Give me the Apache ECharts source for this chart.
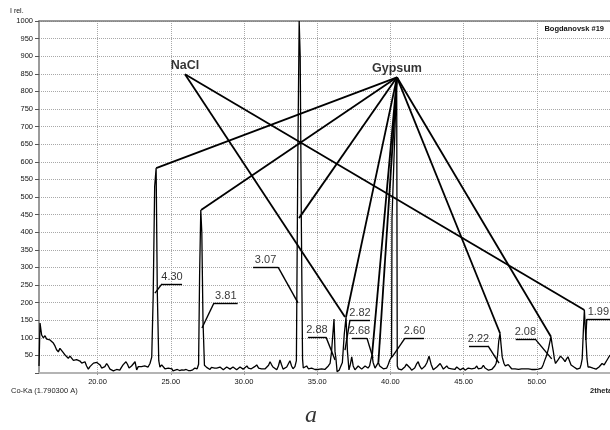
<!DOCTYPE html>
<html><head><meta charset="utf-8">
<script src="https://cdn.jsdelivr.net/npm/echarts@6/dist/echarts.min.js"></script>
<style>html,body{margin:0;padding:0;background:#fff}#c{width:610px;height:430px}</style>
</head><body><div id="c"></div>
<script>
// 2theta (deg, Co-Ka) and relative intensity
const twoTheta = [16.00,16.07,16.18,16.30,16.41,16.53,16.65,16.75,16.87,16.98,17.09,17.20,17.32,17.43,17.55,17.66,17.78,17.90,18.00,18.12,18.23,18.35,18.46,18.57,18.68,18.80,18.92,19.03,19.14,19.25,19.37,19.48,19.60,19.72,19.83,19.95,20.06,20.17,20.28,20.39,20.50,20.62,20.73,20.85,20.96,21.08,21.19,21.30,21.40,21.52,21.63,21.74,21.85,21.94,22.05,22.15,22.21,22.32,22.44,22.56,22.67,22.78,22.90,23.00,23.10,23.22,23.33,23.45,23.58,23.70,23.80,23.90,24.00,24.08,24.18,24.26,24.38,24.49,24.60,24.72,24.83,24.95,25.08,25.15,25.30,25.45,25.60,25.75,25.90,26.05,26.20,26.35,26.50,26.65,26.80,26.90,26.97,27.05,27.12,27.20,27.30,27.45,27.57,27.68,27.78,27.88,28.00,28.14,28.25,28.36,28.48,28.59,28.70,28.82,28.94,29.05,29.15,29.25,29.38,29.50,29.62,29.73,29.84,29.94,30.07,30.20,30.30,30.41,30.50,30.60,30.73,30.87,31.00,31.10,31.20,31.30,31.45,31.57,31.68,31.78,31.88,31.98,32.10,32.24,32.35,32.46,32.56,32.67,32.80,32.92,33.03,33.14,33.25,33.35,33.48,33.58,33.68,33.77,33.84,33.92,34.00,34.05,34.17,34.28,34.40,34.50,34.62,34.73,34.85,34.97,35.08,35.19,35.30,35.40,35.52,35.65,35.76,35.88,35.98,36.07,36.15,36.22,36.28,36.36,36.50,36.60,36.72,36.85,36.97,37.07,37.17,37.27,37.36,37.46,37.58,37.70,37.80,37.92,38.04,38.15,38.27,38.38,38.47,38.58,38.68,38.75,38.82,38.95,39.07,39.18,39.27,39.40,39.52,39.63,39.75,39.86,39.96,40.08,40.11,40.43,40.47,40.54,40.66,40.77,40.88,41.00,41.10,41.22,41.33,41.45,41.55,41.66,41.78,41.90,42.00,42.14,42.25,42.37,42.50,42.64,42.78,42.93,43.05,43.17,43.28,43.40,43.50,43.62,43.74,43.85,43.96,44.08,44.18,44.28,44.40,44.53,44.65,44.76,44.87,44.98,45.10,45.21,45.32,45.44,45.56,45.67,45.78,45.90,46.00,46.12,46.23,46.35,46.47,46.58,46.70,46.80,46.92,47.03,47.13,47.22,47.32,47.40,47.49,47.56,47.64,47.76,47.85,47.94,48.05,48.17,48.28,48.40,48.52,48.63,48.75,48.85,48.96,49.06,49.18,49.31,49.42,49.54,49.64,49.74,49.87,50.00,50.11,50.22,50.33,50.43,50.56,50.68,50.80,50.90,50.97,51.05,51.13,51.20,51.28,51.36,51.45,51.55,51.62,51.70,51.80,51.93,52.03,52.13,52.23,52.34,52.44,52.54,52.64,52.75,52.85,52.95,53.03,53.10,53.18,53.25,53.31,53.36,53.43,53.50,53.64,53.74,53.84,53.95,54.05,54.15,54.25,54.36,54.46,54.53,54.60,54.70,54.80,54.90,55.00];
const intensity = [20,142,108,100,106,96,92,94,98,85,77,66,60,70,65,58,51,46,42,48,44,36,32,38,42,34,28,30,32,20,11,18,23,28,27,30,26,23,14,9,18,27,20,11,10,6,7,10,14,8,16,23,28,32,24,14,12,20,23,32,9,18,23,18,14,20,15,17,27,45,220,530,582,230,35,17,23,20,12,9,14,17,12,6,8,10,7,9,8,10,7,7,9,14,12,25,280,463,400,150,22,16,12,10,16,20,14,14,10,17,12,9,14,17,13,11,14,17,12,9,14,17,14,11,16,20,14,9,12,14,18,23,14,9,12,17,12,14,22,32,24,17,12,9,20,37,24,11,14,17,22,35,20,12,18,35,620,1000,900,420,40,14,18,20,12,9,14,17,10,6,10,14,12,9,10,14,20,27,60,110,153,60,42,4,8,4,30,110,159,60,9,25,46,20,9,14,20,15,11,16,20,17,14,20,40,52,30,14,9,30,20,17,12,9,14,25,37,45,440,838,20,12,14,9,11,18,25,29,15,8,6,14,25,32,20,11,14,20,30,48,25,9,12,17,20,27,28,11,14,20,14,9,12,14,10,17,12,9,12,14,8,11,14,17,12,9,14,20,12,9,14,22,14,9,8,6,10,14,20,27,50,90,113,80,45,27,20,17,24,20,12,9,12,17,10,6,12,17,12,9,12,14,10,6,10,14,11,9,14,23,38,51,70,90,103,80,61,40,27,28,37,42,48,51,40,32,40,46,35,23,20,17,12,11,12,14,25,40,120,179,130,94,40,17,17,15,14,12,11,14,17,22,27,25,23,30,37,44,51];
const xTickValues = [20,25,30,35,40,45,50];

// d-spacing annotations (Å): text, underline span, underline level, leader tip on the peak
const dLabels = ['4.30','3.81','3.07','2.88','2.82','2.68','2.60','2.22','2.08','1.99'];
const ulLeft  = [24.40,27.95,30.62,34.37,37.24,37.38,41.00,45.37,48.56,53.41];
const ulRight = [25.77,29.57,32.33,35.60,38.61,38.40,42.30,46.67,49.88,55.00];
const ulLevel = [253,199,301,102,151,99,99,77,97,153];
const tipX    = [23.92,27.13,33.69,36.22,36.90,38.81,40.11,47.42,51.02,53.34];
const tipY    = [227,128,199,37,65,43,45,28,40,94];

// phase assignment: label apex and peaks it points to
const gypsumApex = [40.45, 840];
const gypsumTargets = [[24.00,582],[27.07,463],[33.76,440],[36.97,159],[38.75,52],[39.18,30],[47.49,113],[50.97,103]];
const naclApex = [25.97, 849];
const naclTargets = [[36.90,159],[53.25,179]];

const chart = echarts.init(document.getElementById('c'));
const lineData = twoTheta.map((t,i)=>[t,intensity[i]]);

const segs = [];
dLabels.forEach((d,i)=>{
  segs.push([{coord:[ulLeft[i],ulLevel[i]]},{coord:[ulRight[i],ulLevel[i]]}]);
  const ex = Math.abs(tipX[i]-ulLeft[i]) < Math.abs(tipX[i]-ulRight[i]) ? ulLeft[i] : ulRight[i];
  segs.push([{coord:[ex,ulLevel[i]]},{coord:[tipX[i],tipY[i]]}]);
});
const phaseStyle = {color:'#000', width:1.8};
gypsumTargets.forEach(t=>segs.push([{coord:gypsumApex, lineStyle:phaseStyle},{coord:t}]));
naclTargets.forEach(t=>segs.push([{coord:naclApex, lineStyle:phaseStyle},{coord:t}]));

const labelData = dLabels.map((d,i)=>[(ulLeft[i]+ulRight[i])/2, ulLevel[i], d]);

const axisFont = 'Liberation Sans';
chart.setOption({
  animation:false,
  backgroundColor:'#fff',
  grid:{left:39, right:0, top:21, bottom:57, containLabel:false},
  xAxis:[{
    type:'value', min:16, max:55, position:'bottom',
    axisLine:{show:true, onZero:false, lineStyle:{color:'#b4b4b4', width:2}},
    axisTick:{show:true, customValues:xTickValues, length:2, lineStyle:{color:'#999'}},
    axisLabel:{customValues:xTickValues, formatter:v=>v.toFixed(2), fontSize:7.5, color:'#111', margin:5, fontFamily:axisFont},
    splitLine:{show:true, lineStyle:{type:'dotted', color:'#a8a8a8', width:1}}
  },{
    type:'value', min:16, max:55, position:'top',
    axisLine:{show:true, onZero:false, lineStyle:{color:'#7a7a7a', width:1.5}},
    axisTick:{show:false}, axisLabel:{show:false}, splitLine:{show:false}
  }],
  yAxis:{
    type:'value', min:0, max:1000, interval:50,
    axisLine:{show:true, lineStyle:{color:'#7a7a7a', width:1.5}},
    axisTick:{show:true, length:4, lineStyle:{color:'#555'}},
    axisLabel:{fontSize:7.5, color:'#111', margin:6, fontFamily:axisFont, formatter:v=> v===0 ? '' : String(v)},
    splitLine:{show:true, lineStyle:{type:'dotted', color:'#a8a8a8', width:1}}
  },
  series:[{
    type:'line', data:lineData, showSymbol:false, symbol:'none',
    lineStyle:{color:'#000', width:1.3}, clip:true, z:3,
    markLine:{
      silent:true, symbol:['none','none'], animation:false,
      label:{show:false},
      lineStyle:{color:'#000', width:1.4, type:'solid'},
      emphasis:{disabled:true},
      data:segs
    }
  },{
    type:'scatter', data:labelData, symbol:'circle', symbolSize:1, silent:true,
    itemStyle:{color:'rgba(0,0,0,0)'}, z:5,
    label:{show:true, position:'top', distance:1, formatter:p=>p.data[2], color:'#000', fontSize:11, fontFamily:'Liberation Sans'}
  },{
    type:'scatter', data:[[naclApex[0],naclApex[1],'NaCl'],[gypsumApex[0],gypsumApex[1],'Gypsum']],
    symbol:'circle', symbolSize:1, silent:true, itemStyle:{color:'rgba(0,0,0,0)'}, z:5,
    label:{show:true, position:'top', distance:2, formatter:p=>p.data[2], color:'#000', fontSize:12.5, fontWeight:'bold', fontFamily:'Liberation Sans'}
  }],
  graphic:[
    {type:'text', left:10, top:8, style:{text:'I rel.', font:'7px "Liberation Sans"', fill:'#111'}},
    {type:'text', right:6, top:25, style:{text:'Bogdanovsk #19', font:'bold 7.5px "Liberation Sans"', fill:'#111'}},
    {type:'text', left:11, top:387, style:{text:'Co-Ka (1.790300 A)', font:'7.5px "Liberation Sans"', fill:'#222'}},
    {type:'text', left:590, top:387, style:{text:'2theta', font:'bold 7.5px "Liberation Sans"', fill:'#222'}},
    {type:'text', left:305, top:404, style:{text:'a', font:'italic 24px "Liberation Serif"', fill:'#333'}}
  ]
});
</script></body></html>
